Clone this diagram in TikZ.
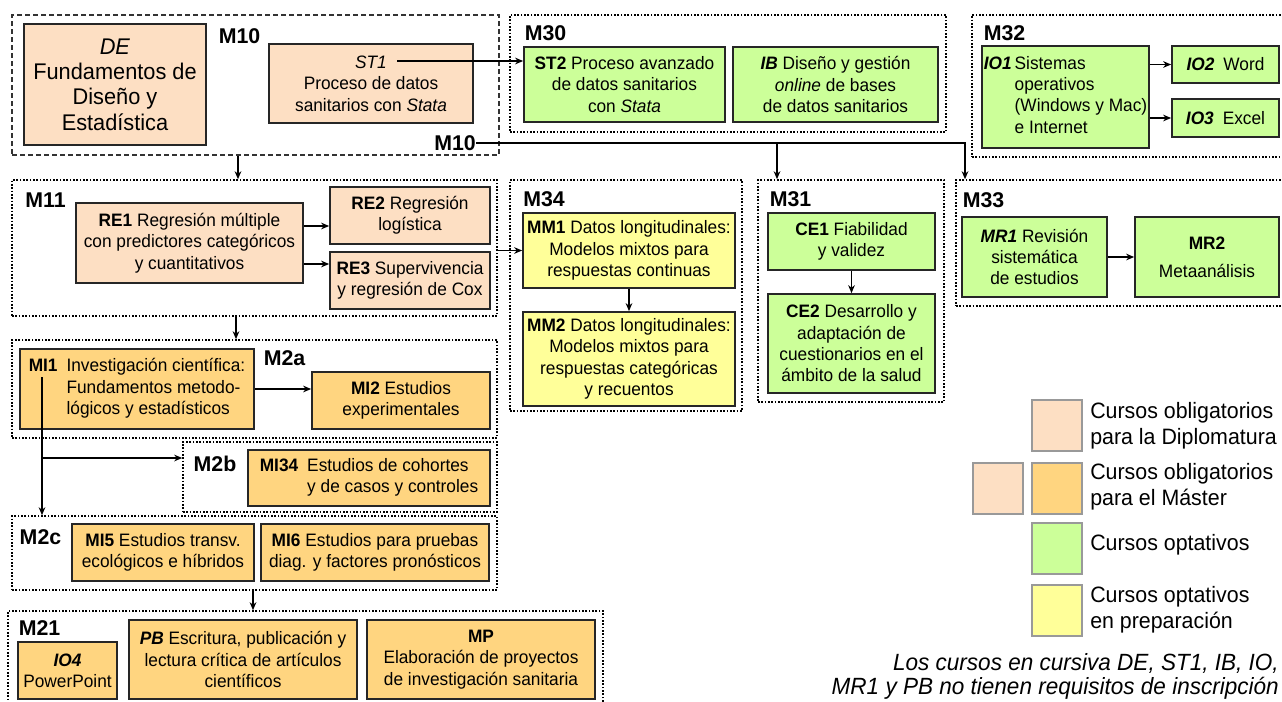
\documentclass[tikz,border=0pt]{standalone}
\usepackage{fontspec}
\setmainfont[FakeStretch=0.96]{Liberation Sans}
\newfontfamily\lblfont{Liberation Sans}
\usetikzlibrary{arrows.meta}
\definecolor{pale}{RGB}{253,223,195}
\definecolor{mast}{RGB}{255,213,128}
\definecolor{opt}{RGB}{204,255,153}
\definecolor{prep}{RGB}{255,255,153}
\newcommand{\crs}[1]{\textbf{#1}}
\newcommand{\crsi}[1]{\textbf{\textit{#1}}}

\begin{document}
\begin{tikzpicture}[x=0.75pt, y=-0.75pt,
    sz/.style 2 args={minimum width=#1*0.75pt, minimum height=#2*0.75pt},
    box/.style={draw=black!85, line width=1.3pt, align=center, inner sep=0pt,
      font=\fontsize{13.5}{16}\selectfont},
    grp/.style={draw, line width=1.2pt, dash pattern=on 1.2pt off 1.3pt, inner sep=0pt},
    dgrp/.style={draw=black!80, line width=1pt, dash pattern=on 3.5pt off 2.5pt, inner sep=0pt},
    lbl/.style={inner sep=0pt, font=\lblfont\bfseries\fontsize{16}{19}\selectfont},
    leg/.style={draw=black!40, line width=1.5pt, sz={50}{51}},
    legtxt/.style={anchor=west, align=left, inner sep=0pt, font=\fontsize{16.7}{19.5}\selectfont},
    conn/.style={line width=1.1pt, ->},
    >={Stealth[length=6pt,width=5pt]}]
    \useasboundingbox (0,0) rectangle (1282,701);

    % groups
    \node[dgrp, sz={487}{140}] (m10) at (255.5,85) {};
    \node[grp, sz={436}{117}] (m30) at (728,73.5) {};
    \node[grp, sz={320}{142}] (m32) at (1132,86) {};
    \node[grp, sz={485}{136}] (m11) at (254.5,248) {};
    \node[grp, sz={232}{231}] (m34) at (626,295.5) {};
    \node[grp, sz={186}{222}] (m31) at (851,291) {};
    \node[grp, sz={336}{126}] (m33) at (1124,243) {};
    \node[grp, sz={485}{98}] (m2a) at (254.5,389) {};
    \node[grp, sz={314}{70}] (m2b) at (340,477) {};
    \node[grp, sz={485}{74}] (m2c) at (254.5,553) {};
    \node[grp, sz={595}{99}] (m21) at (305.5,660.5) {};

    \node[lbl] (m10a) at (239.5,36) {M10};
    \node[lbl] (m10b) at (455,143) {M10};
    \node[lbl] (m30l) at (545.5,33) {M30};
    \node[lbl] (m32l) at (1004.5,33) {M32};
    \node[lbl] (m11l) at (45.5,200) {M11};
    \node[lbl] (m34l) at (544,199) {M34};
    \node[lbl] (m31l) at (790.5,199) {M31};
    \node[lbl] (m33l) at (983.5,200) {M33};
    \node[lbl] (m2al) at (284.5,358) {M2a};
    \node[lbl] (m2bl) at (215,464) {M2b};
    \node[lbl] (m2cl) at (40.5,537) {M2c};
    \node[lbl] (m21l) at (39.5,628) {M21};

    % courses
    \node[box, fill=pale, sz={182}{121}, font=\fontsize{17}{19}\selectfont] (de) at (115,84.5)
      {\textit{DE}\\Fundamentos de\\Diseño y\\Estadística};
    \node[box, fill=pale, sz={204}{79}] (st1) at (371,83.5)
      {\textit{ST1}\\Proceso de datos\\sanitarios con \textit{Stata}};
    \node[box, fill=opt, sz={201}{75}] (st2) at (624.5,84.5)
      {\crs{ST2} Proceso avanzado\\de datos sanitarios\\con \textit{Stata}};
    \node[box, fill=opt, sz={205}{75}] (ib) at (835.5,84.5)
      {\crsi{IB} Diseño y gestión\\\textit{online} de bases\\de datos sanitarios};
    \node[box, fill=opt, sz={167}{102}] (io1) at (1065.5,97)
      {\crsi{IO1}\,\begin{tabular}[t]{@{}l@{}}Sistemas\\operativos\\(Windows y Mac)\\e Internet\end{tabular}};
    \node[box, fill=opt, sz={107}{37}] (io2) at (1225.5,64.5) {\crsi{IO2}\enspace Word};
    \node[box, fill=opt, sz={107}{38}] (io3) at (1225.5,118) {\crsi{IO3}\enspace Excel};

    \node[box, fill=pale, sz={227}{80}] (re1) at (189.5,243)
      {\crs{RE1} Regresión múltiple\\con predictores categóricos\\y cuantitativos};
    \node[box, fill=pale, sz={160}{57}] (re2) at (410,215.5) {\crs{RE2} Regresión\\logística};
    \node[box, fill=pale, sz={160}{57}] (re3) at (410,280.5) {\crs{RE3} Supervivencia\\y regresión de Cox};
    \node[box, fill=prep, sz={212}{75}] (mm1) at (629,250.5)
      {\crs{MM1} Datos longitudinales:\\Modelos mixtos para\\respuestas continuas};
    \node[box, fill=prep, sz={212}{94}] (mm2) at (629,359)
      {\crs{MM2} Datos longitudinales:\\Modelos mixtos para\\respuestas categóricas\\y recuentos};
    \node[box, fill=opt, sz={167}{57}] (ce1) at (851.5,241.5) {\crs{CE1} Fiabilidad\\y validez};
    \node[box, fill=opt, sz={167}{99}] (ce2) at (851.5,343.5)
      {\crs{CE2} Desarrollo y\\adaptación de\\cuestionarios en el\\ámbito de la salud};
    \node[box, fill=opt, sz={145}{80}] (mr1) at (1034.5,257)
      {\crsi{MR1} Revisión\\sistemática\\de estudios};
    \node[box, fill=opt, sz={144}{80}] (mr2) at (1207,257) {\crs{MR2}\\[5pt]Metaanálisis};

    \node[box, fill=mast, sz={234}{80}] (mi1) at (137,389)
      {\crs{MI1}\enspace\begin{tabular}[t]{@{}l@{}}Investigación científica:\\Fundamentos metodo-\\lógicos y estadísticos\end{tabular}};
    \node[box, fill=mast, sz={178}{57}] (mi2) at (401,400.5) {\crs{MI2} Estudios\\experimentales};
    \node[box, fill=mast, sz={242}{56}] (mi34) at (369,478)
      {\crs{MI34}\enspace\begin{tabular}[t]{@{}l@{}}Estudios de cohortes\\y de casos y controles\end{tabular}};
    \node[box, fill=mast, sz={182}{57}] (mi5) at (163,552.5)
      {\crs{MI5} Estudios transv.\\ecológicos e híbridos};
    \node[box, fill=mast, sz={228}{57}] (mi6) at (375,552.5)
      {\crs{MI6} Estudios para pruebas\\diag. y factores pronósticos};
    \node[box, fill=mast, sz={99}{57}] (io4) at (67.5,670.5) {\crsi{IO4}\\PowerPoint};
    \node[box, fill=mast, sz={228}{79}] (pb) at (243,659.5)
      {\crsi{PB} Escritura, publicación y\\lectura crítica de artículos\\científicos};
    \node[box, fill=mast, sz={228}{79}] (mp) at (481,659.5)
      {\crs{MP}\\Elaboración de proyectos\\de investigación sanitaria};

    % connectors
    \coordinate (st1out) at (397,61);
    \draw[conn] (st1out) -- (st2.west |- st1out);
    \draw[conn] (m10b.east) -| (965,0 |- m33.north);
    \draw[conn] (777,0 |- m10b.east) -- (777,0 |- m31.north);
    \draw[conn] (io1.east |- io2.west) -- (io2.west);
    \draw[conn] (io1.east |- io3.west) -- (io3.west);
    \draw[conn] (238,0 |- m10.south) -- (238,0 |- m11.north);
    \draw[conn] (re1.east |- 0,226) -- (re2.west |- 0,226);
    \draw[conn] (re1.east |- 0,264) -- (re3.west |- 0,264);
    \draw[conn] (m11.east |- mm1.west) -- (mm1.west);
    \draw[conn] (mm1.south) -- (mm2.north);
    \draw[conn] (ce1.south) -- (ce2.north);
    \draw[conn] (mr1.east) -- (mr2.west);
    \draw[conn] (236,0 |- m11.south) -- (236,0 |- m2a.north);
    \draw[conn] (mi1.east) -- (mi2.west |- mi1.east);
    \coordinate (mi1d) at (42,377);
    \draw[conn] (mi1d) -- (mi1d |- m2c.north);
    \draw[conn] (mi1d |- 0,458) -- (m2b.west |- 0,458);
    \draw[conn] (253,0 |- m2c.south) -- (253,0 |- m21.north);

    % legend
    \node[leg, fill=pale] (k1) at (1057,425.5) {};
    \node[leg, fill=pale] (k2a) at (997.5,488) {};
    \node[leg, fill=mast] (k2b) at (1057,488) {};
    \node[leg, fill=opt] (k3) at (1057,548.5) {};
    \node[leg, fill=prep] (k4) at (1057,610) {};
    \node[legtxt] (t1) at (1090,426) {Cursos obligatorios\\para la Diplomatura};
    \node[legtxt] (t2) at (1090,487) {Cursos obligatorios\\para el Máster};
    \node[legtxt] (t3) at (1090,545) {Cursos optativos};
    \node[legtxt] (t4) at (1090,610) {Cursos optativos\\en preparación};
    \node[legtxt, anchor=east, align=right, font=\itshape\fontsize{17.6}{18}\selectfont] (note) at (1279,676)
      {Los cursos en cursiva DE, ST1, IB, IO,\\MR1 y PB no tienen requisitos de inscripción};
\end{tikzpicture}
\end{document}
